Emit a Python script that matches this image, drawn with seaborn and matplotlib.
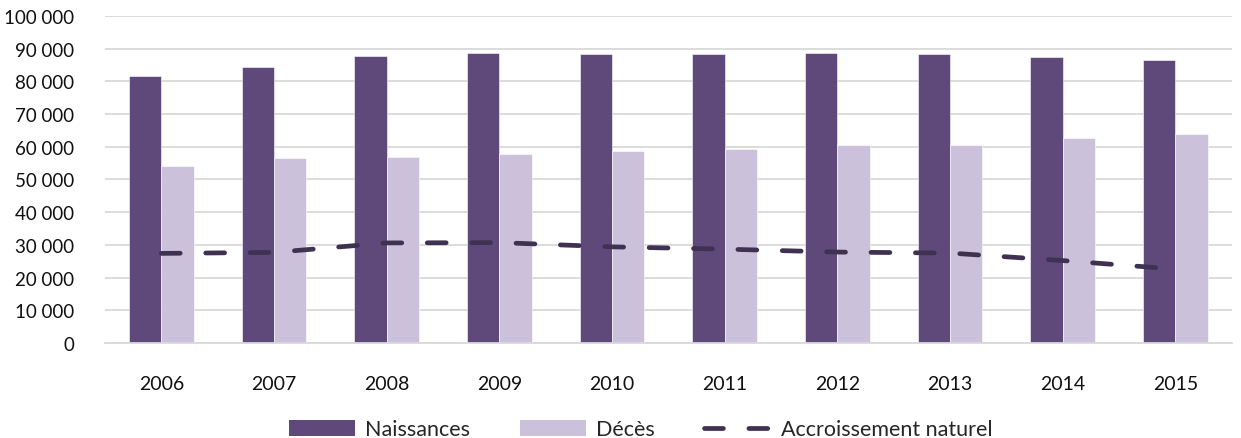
import matplotlib
matplotlib.use("Agg")

import matplotlib.pyplot as plt
from matplotlib.patches import Patch
from matplotlib.lines import Line2D
import pandas as pd
import seaborn as sns

# Data
years = ["2006", "2007", "2008", "2009", "2010", "2011", "2012", "2013", "2014", "2015"]
naissances = [81700, 84300, 87700, 88700, 88300, 88400, 88600, 88400, 87500, 86600]
deces = [54200, 56600, 57000, 57700, 58600, 59300, 60600, 60600, 62800, 63800]
accroissement = [27400, 27700, 30600, 30700, 29400, 28700, 27800, 27500, 25200, 22600]
yticks = list(range(0, 100001, 10000))

c_naiss = "#5f497a"
c_deces = "#ccc1da"
c_line = "#3f3151"

sns.set_theme(style="white")
plt.rcParams["font.family"] = ["Lato", "DejaVu Sans"]

df = pd.DataFrame({
    "annee": years * 2,
    "valeur": naissances + deces,
    "serie": ["Naissances"] * len(years) + ["Décès"] * len(years),
})

fig = plt.figure(figsize=(12.41, 4.39), dpi=100)
ax = fig.add_axes([0.0846, 0.2164, 0.908, 0.745])

sns.barplot(data=df, x="annee", y="valeur", hue="serie",
            palette=[c_naiss, c_deces], width=0.574, gap=0,
            saturation=1, edgecolor="white", linewidth=0.4,
            legend=False, ax=ax, zorder=2)

sns.pointplot(x=years, y=accroissement, color=c_line, markers="",
              linestyles="--", ax=ax, zorder=3)
for ln in ax.lines:
    ln.set_linewidth(3.4)
    ln.set_dashes((4, 5.4))
    ln.set_dash_capstyle("round")

ax.set_ylim(0, 100000)
ax.set_xlim(-0.5, len(years) - 0.5)
ax.set_yticks(yticks)
ax.set_yticklabels([f"{v:,}".replace(",", " ") for v in yticks])
ax.yaxis.grid(True, color="#d9d9d9", linewidth=1.3, zorder=0)
ax.set_axisbelow(True)
for side in ["top", "right", "left"]:
    ax.spines[side].set_visible(False)
ax.spines["bottom"].set_color("#d9d9d9")
ax.spines["bottom"].set_linewidth(1.3)
ax.tick_params(axis="y", labelsize=13.5, length=0, pad=22, colors="#111111")
ax.tick_params(axis="x", labelsize=14, length=0, pad=23, colors="#111111")
ax.set_xlabel("")
ax.set_ylabel("")

handles = [
    Patch(facecolor=c_naiss, edgecolor="none"),
    Patch(facecolor=c_deces, edgecolor="none"),
    Line2D([0], [0], color=c_line, linewidth=3.4, linestyle=(0, (4, 5.4)),
           dash_capstyle="round"),
]
fig.legend(handles, ["Naissances", "Décès", "Accroissement naturel"],
           loc="center", bbox_to_anchor=(0.516, 0.02), ncol=3, frameon=False,
           prop={"family": ["Lato", "DejaVu Sans"], "size": 15.5},
           handlelength=3.1, handleheight=0.75, columnspacing=2.3, handletextpad=0.45)

plt.savefig("out.png", dpi=100)
plt.close()
